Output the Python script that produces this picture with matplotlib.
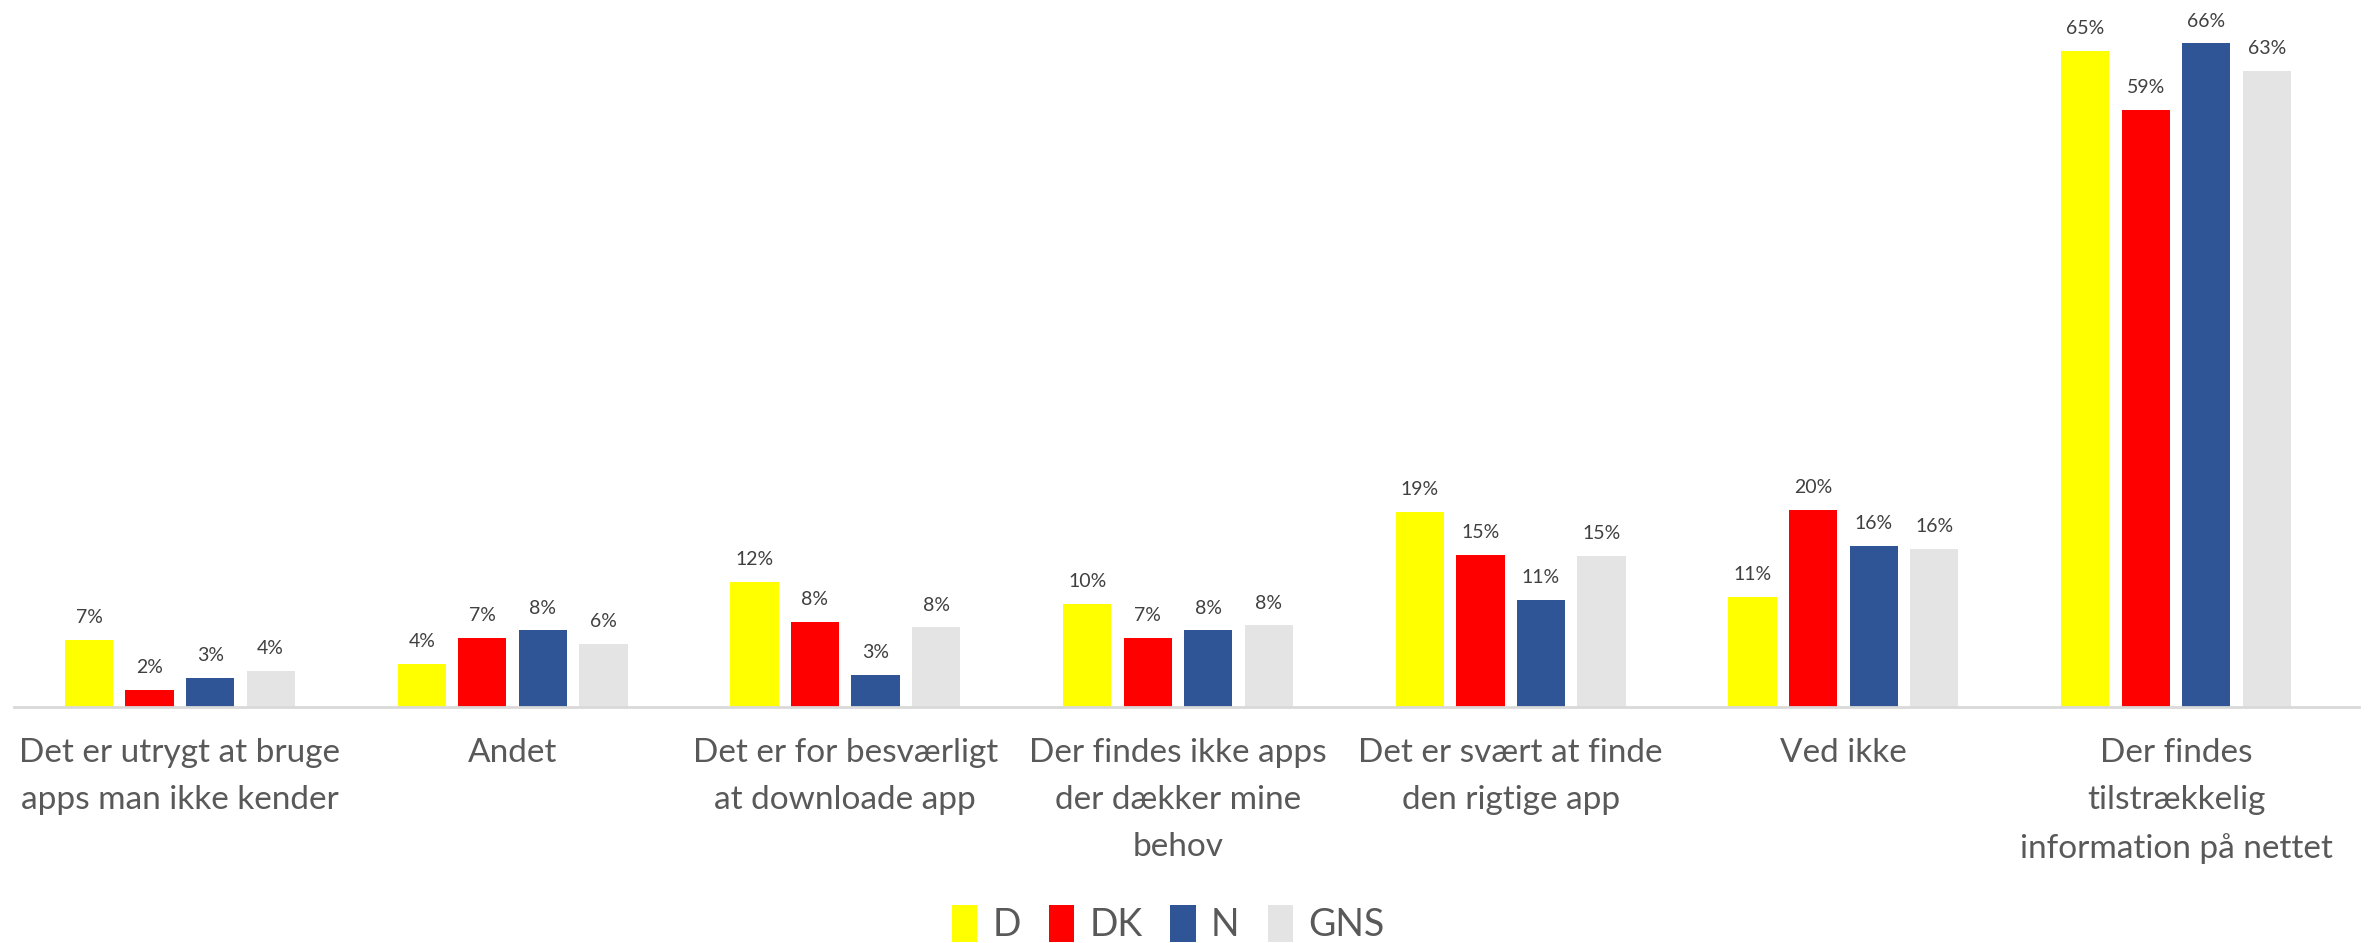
import matplotlib.pyplot as plt
import numpy as np

plt.rcParams['font.family'] = ['Lato', 'DejaVu Sans']

# Data (share in %)
categories = [
    'Det er utrygt at bruge\napps man ikke kender',
    'Andet',
    'Det er for besværligt\nat downloade app',
    'Der findes ikke apps\nder dækker mine\nbehov',
    'Det er svært at finde\nden rigtige app',
    'Ved ikke',
    'Der findes\ntilstrækkelig\ninformation på nettet',
]
series_names = ['D', 'DK', 'N', 'GNS']
val_d = [6.7, 4.3, 12.4, 10.2, 19.3, 10.9, 65.0]
val_dk = [1.7, 6.9, 8.4, 6.9, 15.1, 19.5, 59.1]
val_n = [2.9, 7.6, 3.2, 7.6, 10.6, 16.0, 65.7]
val_gns = [3.6, 6.3, 7.9, 8.1, 15.0, 15.7, 63.0]
colors = ['#FFFF00', '#FF0000', '#2F5597', '#E4E4E4']

series = [val_d, val_dk, val_n, val_gns]

fig = plt.figure(figsize=(23.74, 9.43), dpi=100)
ax = fig.add_axes([0.0057, 0.25, 0.988, 0.75])

x = np.arange(len(categories))
step = 0.182
width = 0.145

for k, (name, vals, col) in enumerate(zip(series_names, series, colors)):
    pos = x + (k - 1.5) * step
    bars = ax.bar(pos, vals, width=width, color=col, label=name, zorder=2)
    for b, v in zip(bars, vals):
        ax.annotate(f'{round(v):d}%', (b.get_x() + b.get_width() / 2, v),
                    xytext=(0, 10), textcoords='offset points',
                    ha='center', va='bottom', fontsize=14, color='#404040')

ax.set_xlim(-0.5, 6.55)
ax.set_ylim(0, 70)
ax.set_yticks([])
ax.set_xticks(x)
ax.set_xticklabels(categories, fontsize=24, color='#595959', linespacing=1.72)
ax.tick_params(axis='x', length=0, pad=22)

for s in ['top', 'right', 'left']:
    ax.spines[s].set_visible(False)
ax.spines['bottom'].set_color('#D9D9D9')
ax.spines['bottom'].set_linewidth(2)

leg = fig.legend(loc='lower center', bbox_to_anchor=(0.492, -0.036), ncol=4,
                 frameon=False, fontsize=27, handlelength=0.68, handleheight=1.15,
                 handletextpad=0.4, columnspacing=0.75)
for t in leg.get_texts():
    t.set_color('#595959')

fig.savefig('out.png', dpi=100, facecolor='white')
